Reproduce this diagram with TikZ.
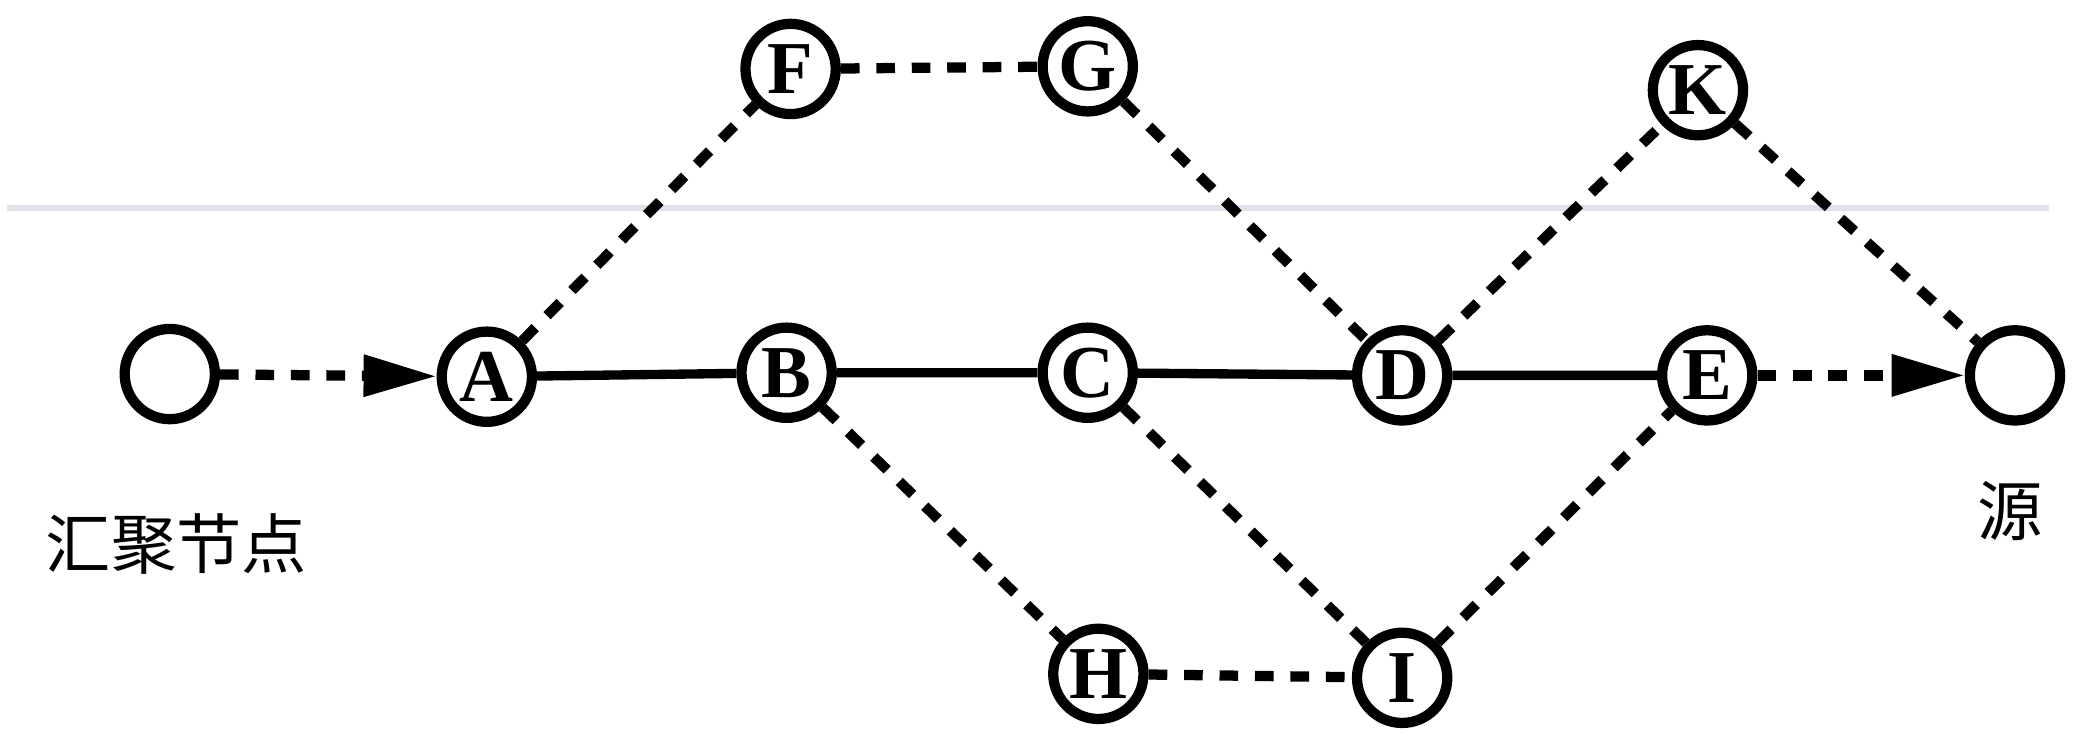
\documentclass[tikz,border=0pt]{standalone}
\usepackage{fontspec}
\setmainfont{Liberation Serif}
\newfontfamily\cjk{Noto Sans CJK SC}
\usetikzlibrary{arrows.meta,positioning}

\begin{document}
\begin{tikzpicture}[x=0.01cm,y=-0.01cm,
    vert/.style={circle, draw, line width=2.2pt, minimum size=0.68cm, inner sep=0pt, font=\bfseries\fontsize{16}{16}\selectfont},
    link/.style={line width=2pt},
    dlink/.style={line width=2.2pt, dash pattern=on 4pt off 3.6pt},
    darrow/.style={dlink, -{Triangle[length=0.55cm,width=0.3cm]}}]
    \useasboundingbox (0,0) rectangle (1568,562);
    %% horizon line
    \draw[line width=1.2pt, color=blue!20!gray!20] (5,157) -- (1545,157);

    %% main chain
    \node[vert] (sink) at (128,282) {};
    \node[vert] (A) at (367,284) {A};
    \node[vert] (B) at (593,281) {B};
    \node[vert] (C) at (820,281) {C};
    \node[vert] (D) at (1057,283) {D};
    \node[vert] (E) at (1287,283) {E};
    \node[vert] (src) at (1519,283) {};

    %% upper and lower nodes
    \node[vert] (F) at (596,52) {F};
    \node[vert] (G) at (820,50) {G};
    \node[vert] (K) at (1280,68) {K};
    \node[vert] (H) at (828,508) {H};
    \node[vert] (I) at (1057,511) {I};

    \node[font=\cjk\fontsize{14}{14}\selectfont] (lsink) at (133,410) {汇聚节点};
    \node[font=\cjk\fontsize{14}{14}\selectfont] (lsrc) at (1515,385) {源};

    \draw[link] (A) -- (B) -- (C) -- (D) -- (E);
    \draw[darrow] (sink) -- (A);
    \draw[darrow] (E) -- (src);

    \draw[dlink] (A) -- (F) -- (G) -- (D) -- (K) -- (src);
    \draw[dlink] (B) -- (H) -- (I) -- (E);
    \draw[dlink] (C) -- (I);
\end{tikzpicture}
\end{document}
